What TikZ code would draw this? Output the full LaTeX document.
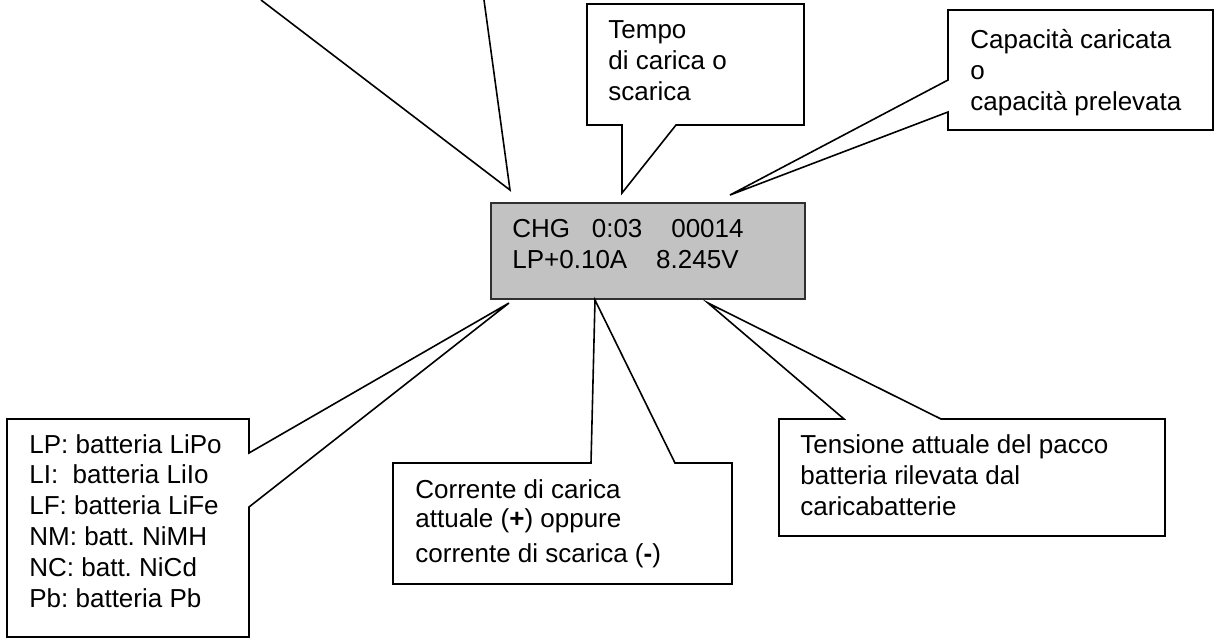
\documentclass[tikz,border=0pt]{standalone}
\usepackage{fontspec}
\setmainfont{Liberation Sans}
\usepackage{tikz}
\usetikzlibrary{positioning}
\definecolor{lcdgray}{HTML}{C2C2C2}
\definecolor{lcdedge}{HTML}{303030}
\frenchspacing

\begin{document}
\begin{tikzpicture}[x=0.5pt, y=-0.5pt,
  lcd panel/.style={draw=lcdedge, line width=1pt, fill=lcdgray,
                    minimum width=157pt, minimum height=48pt,
                    inner sep=0pt, anchor=north west},
  callout/.style={draw=black, line width=0.8pt, fill=white, line join=miter},
  pointer/.style={draw=black, line width=0.8pt},
  note/.style={anchor=base west, align=left, inner sep=0pt,
               font=\fontsize{13}{15.5}\selectfont},
]
  \useasboundingbox (0,0) rectangle (1217,639);

  % Display of the charger.
  \node[lcd panel] (lcd) at (490,202) {};
  \node[note] (lcd-top) at (512,237) {CHG\ \ \ 0:03\ \ \ \ 00014};
  \node[note] (lcd-bottom) at (512,268) {LP+0.10A\ \ \ \ 8.245V};

  % Pointer tips on the display border.
  \coordinate (mode-tip) at (510,190);
  \coordinate (time-tip) at (622,193);
  \coordinate (cap-tip) at (730,195);
  \coordinate (batt-tip) at (509,303);
  \coordinate (cur-tip) at (595,300);
  \coordinate (volt-tip) at (708,303);

  % Callout cut off by the top edge.
  \coordinate (mode-a) at (261,0);
  \coordinate (mode-b) at (484,0);
  \draw[pointer] (mode-a) -- (mode-tip) -- (mode-b);

  % Top callouts (the node base is the last line).
  \draw[callout] (587,4) -- (804,4) -- (804,125) -- (676,125) -- (time-tip)
                 -- (622,125) -- (587,125) -- cycle;
  \node[note] (time) at (608,100) {Tempo\\di carica o\\scarica};

  \draw[callout] (948,10) -- (1213,10) -- (1213,130) -- (948,130) -- (948,112)
                 -- (cap-tip) -- (948,80) -- cycle;
  \node[note] (cap) at (970,110) {Capacità caricata\\o\\capacità prelevata};

  % Bottom callouts.
  \draw[callout] (7,419) -- (249,419) -- (249,453) -- (batt-tip) -- (249,507)
                 -- (249,637) -- (7,637) -- cycle;
  \node[note, font=\fontsize{13}{15.4}\selectfont] (batt) at (29,607)
    {LP: batteria LiPo\\LI:\ \ batteria LiIo\\LF: batteria LiFe\\NM: batt. NiMH\\NC: batt. NiCd\\Pb: batteria Pb};

  \draw[callout] (393,463) -- (591,463) -- (cur-tip) -- (675,463) -- (732,463)
                 -- (732,584) -- (393,584) -- cycle;
  \node[note, font=\fontsize{13}{14.5}\selectfont] (cur) at (415,562)
    {Corrente di carica\\attuale (\textbf{+}) oppure\\[3pt]corrente di scarica (\textbf{-})};

  \draw[callout] (779,419) -- (844,419) -- (volt-tip) -- (941,419) -- (1165,419)
                 -- (1165,536) -- (779,536) -- cycle;
  \node[note] (volt) at (800,515)
    {Tensione attuale del pacco\\batteria rilevata dal\\caricabatterie};
\end{tikzpicture}
\end{document}
